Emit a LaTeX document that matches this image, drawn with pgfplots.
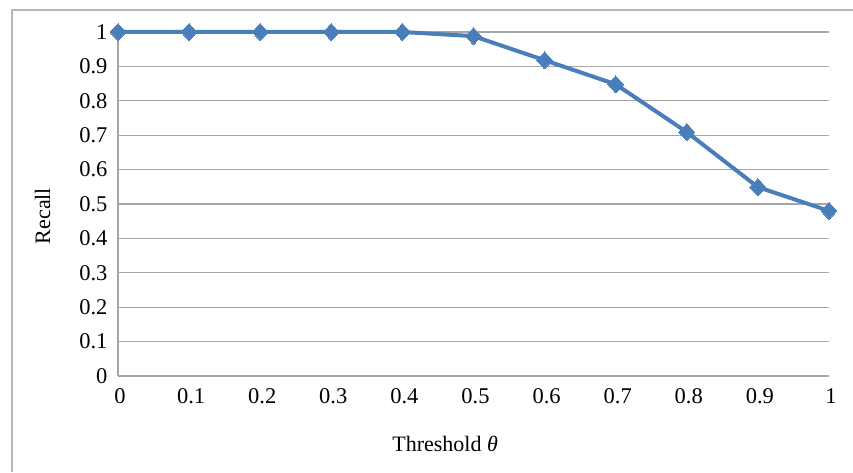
\documentclass[border=0pt]{standalone}
\usepackage{fontspec}
\setmainfont{Liberation Serif}
\usepackage{pgfplots}
\pgfplotsset{compat=1.18}
\definecolor{gridgray}{HTML}{A6A6A6}
\definecolor{xlblue}{HTML}{4A7EBB}
\begin{document}
\begin{tikzpicture}[x=1pt,y=1pt]
\useasboundingbox (0,0) rectangle (853,472);
\draw[color=gridgray!80,line width=1.6pt] (12,0) -- (12,462) -- (853,462);
\begin{axis}[
  at={(118pt,96pt)}, anchor=origin,
  scale only axis, width=711pt, height=344pt,
  xmin=0, xmax=1, ymin=0, ymax=1,
  axis x line*=bottom, axis y line*=left,
  axis line style={gridgray, line width=1.2pt, -},
  xtick={0,0.1,...,1.01}, ytick={0,0.1,...,1.01},
  major tick length=0pt,
  ymajorgrids, grid style={gridgray, line width=1.2pt},
  /pgf/number format/assume math mode=true,
  /pgf/number format/fixed,
  ticklabel style={font=\fontsize{22.5}{25}\selectfont},
  xticklabel style={yshift=-9pt, xshift=2pt},
  yticklabel style={xshift=-7pt},
  xlabel={Threshold \textit{θ}},
  ylabel={Recall},
  label style={font=\fontsize{22}{25}\selectfont},
  xlabel style={at={(axis description cs:0.46,0)}, anchor=center, yshift=-68pt},
  ylabel style={at={(axis description cs:-0.106,0.465)}, anchor=center},
  clip=false,
]
\addplot[color=xlblue, line width=4pt, mark=diamond*, mark size=8.5pt,
  mark options={line width=0pt, fill=xlblue, xscale=1.25}] coordinates {
  (0,1) (0.1,1) (0.2,1) (0.3,1) (0.4,1) (0.5,0.988) (0.6,0.918)
  (0.7,0.848) (0.8,0.709) (0.9,0.549) (1,0.48)
};
\end{axis}
\end{tikzpicture}
\end{document}
